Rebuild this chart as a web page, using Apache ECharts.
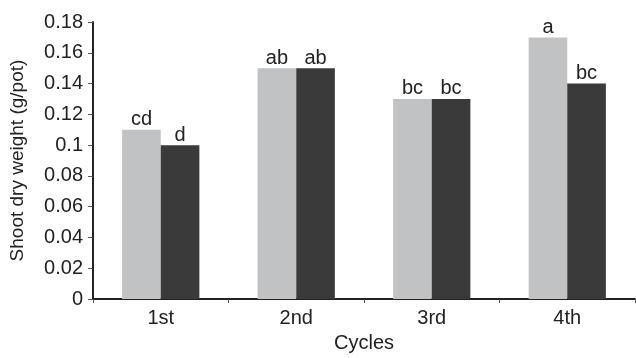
<!DOCTYPE html>
<html><head><meta charset="utf-8">
<script src="https://cdn.jsdelivr.net/npm/echarts@6/dist/echarts.min.js"></script>
<style>html,body{margin:0;padding:0;background:#fff}#c{width:636px;height:358px}</style>
</head><body><div id="c"></div>
<script>
const categories = ["1st", "2nd", "3rd", "4th"];
const seriesA = [0.11, 0.15, 0.13, 0.17];
const seriesB = [0.10, 0.15, 0.13, 0.14];
const lettersA = ["cd", "ab", "bc", "a"];
const lettersB = ["d", "ab", "bc", "bc"];
const yTicks = [0, 0.02, 0.04, 0.06, 0.08, 0.1, 0.12, 0.14, 0.16, 0.18];

const font = "Liberation Sans, Arial, sans-serif";
const chart = echarts.init(document.getElementById('c'));
function mk(vals, letters, color) {
  return {
    type: 'bar', data: vals, barGap: '0%', barCategoryGap: '43%',
    itemStyle: { color: color },
    label: { show: true, position: 'top', distance: 0, formatter: p => letters[p.dataIndex],
      color: '#222', fontSize: 20, fontFamily: font },
    animation: false
  };
}
chart.setOption({
  animation: false,
  grid: { left: 93, right: 1, top: 22, bottom: 50 },
  xAxis: {
    type: 'category', data: categories,
    name: 'Cycles', nameLocation: 'middle', nameGap: 29,
    nameTextStyle: { color: '#222', fontSize: 20, fontFamily: font },
    axisLine: { lineStyle: { color: '#222', width: 2 } },
    axisTick: { show: true, length: 4, lineStyle: { color: '#555' } },
    axisLabel: { color: '#222', fontSize: 20, fontFamily: font, margin: 9 }
  },
  yAxis: {
    type: 'value', min: 0, max: 0.18, interval: 0.02,
    name: 'Shoot dry weight (g/pot)', nameLocation: 'middle', nameGap: 66,
    nameTextStyle: { color: '#222', fontSize: 19, fontFamily: font },
    axisLine: { show: true, lineStyle: { color: '#222', width: 2 } },
    axisTick: { show: true, length: 5, lineStyle: { color: '#555' } },
    splitLine: { show: false },
    axisLabel: { color: '#222', fontSize: 20, fontFamily: font, margin: 10,
      formatter: v => { const t = yTicks.find(x => Math.abs(x - v) < 1e-9); return String(t !== undefined ? t : v); } }
  },
  series: [mk(seriesA, lettersA, '#c1c2c4'), mk(seriesB, lettersB, '#3a3a3a')]
});
</script></body></html>
